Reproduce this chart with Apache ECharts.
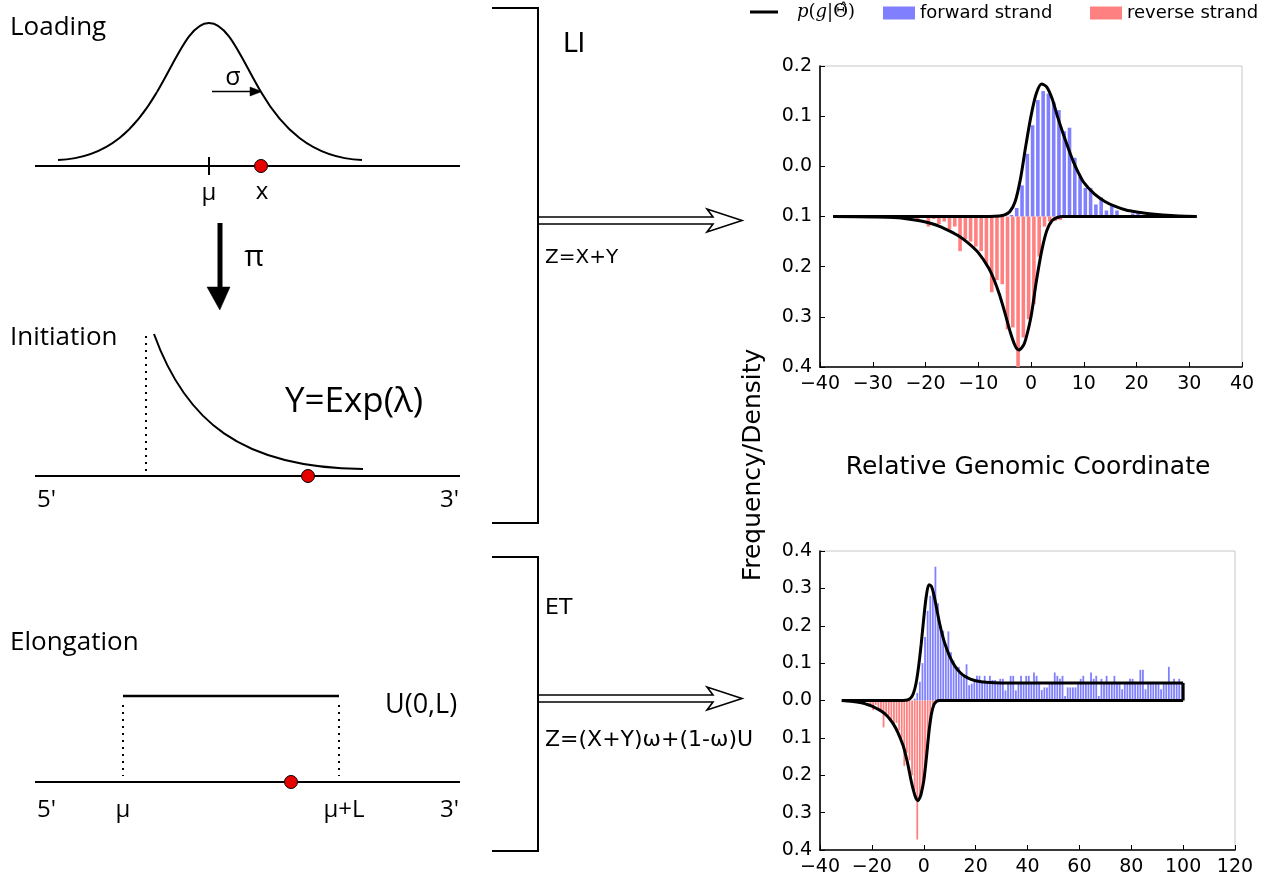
<!DOCTYPE html>
<html><head><meta charset="utf-8">
<script src="https://cdn.jsdelivr.net/npm/echarts@6/dist/echarts.min.js"></script>
<style>html,body{margin:0;padding:0;background:#fff}#c{width:1265px;height:877px}</style>
</head><body><div id="c"></div>
<script>
// ---------- DATA ----------
// LI panel (top chart)
const topXTickLabels = ['\u221240','\u221230','\u221220','\u221210','0','10','20','30','40'];
const topYTickLabels = ['0.4','0.3','0.2','0.1','0.0','0.1','0.2'];
const topFwdX = [-3.7,-2.7,-1.7,-0.7,0.3,1.3,2.3,3.3,4.3,5.3,6.3,7.3,8.3,9.3,10.3,11.3,12.3,13.3,14.3,15.3,16.3,17.3,18.3,19.3,20.3,21.3];
const topFwdY = [0.003,0.017,0.062,0.125,0.182,0.232,0.25,0.245,0.228,0.212,0.17,0.177,0.117,0.08,0.057,0.057,0.024,0.038,0.012,0.022,0.012,0.003,0.002,0.006,0.006,0.003];
const topRevX = [-21.45,-20.45,-19.45,-18.45,-17.45,-16.45,-15.45,-14.45,-13.45,-12.45,-11.45,-10.45,-9.45,-8.45,-7.45,-6.45,-5.45,-4.45,-3.45,-2.45,-1.45,-0.45,0.55,1.55,2.55,3.55,4.55,5.55];
const topRevY = [-0.005,-0.003,-0.02,-0.005,-0.015,-0.01,-0.025,-0.02,-0.069,-0.045,-0.05,-0.06,-0.069,-0.095,-0.151,-0.127,-0.135,-0.225,-0.221,-0.301,-0.241,-0.205,-0.175,-0.08,-0.02,-0.01,-0.009,-0.007];
const topFwdCurve = [[-37.5,0],[-10,0],[-6,0.001],[-5,0.003],[-4,0.01],[-3,0.03],[-2,0.075],[-1,0.14],[0,0.2],[1,0.245],[2,0.264],[3,0.258],[4,0.235],[5,0.2],[6,0.168],[7,0.138],[8,0.11],[9,0.087],[10,0.068],[12,0.045],[14,0.03],[16,0.02],[18,0.013],[20,0.009],[22,0.006],[25,0.003],[28,0.001],[31.4,0]];
const topRevCurve = [[-37.5,0],[-30,-0.001],[-26,-0.002],[-24,-0.004],[-22,-0.007],[-20,-0.011],[-18,-0.017],[-16,-0.026],[-14,-0.037],[-12,-0.052],[-10,-0.072],[-8,-0.103],[-7,-0.126],[-6,-0.155],[-5,-0.19],[-4,-0.228],[-3,-0.258],[-2.3,-0.266],[-1.5,-0.258],[-1,-0.245],[0,-0.2],[1,-0.13],[2,-0.07],[3,-0.028],[4,-0.008],[5,-0.002],[6,0],[31.4,0]];

// ET panel (bottom chart)
const botXTickLabels = ['\u221240','\u221220','0','20','40','60','80','100','120'];
const botYTickLabels = ['0.4','0.3','0.2','0.1','0.0','0.1','0.2','0.3','0.4'];
const botFwdX = [-3.5,-2.5,-1.5,-0.5,0.5,1.5,2.5,3.5,4.5,5.5,
  6.5,7.5,8.5,9.5,10.5,11.5,12.5,13.5,14.5,15.5,
  16.5,17.5,18.5,19.5,20.5,21.5,22.5,23.5,24.5,25.5,
  26.5,27.5,28.5,29.5,30.5,31.5,32.5,33.5,34.5,35.5,
  36.5,37.5,38.5,39.5,40.5,41.5,42.5,43.5,44.5,45.5,
  46.5,47.5,48.5,49.5,50.5,51.5,52.5,53.5,54.5,55.5,
  56.5,57.5,58.5,59.5,60.5,61.5,62.5,63.5,64.5,65.5,
  66.5,67.5,68.5,69.5,70.5,71.5,72.5,73.5,74.5,75.5,
  76.5,77.5,78.5,79.5,80.5,81.5,82.5,83.5,84.5,85.5,
  86.5,87.5,88.5,89.5,90.5,91.5,92.5,93.5,94.5,95.5,
  96.5,97.5,98.5,99.5];
const botFwdY = [0.005,0.02,0.05,0.1,0.17,0.24,0.28,0.3,0.358,0.26,
  0.2,0.187,0.14,0.185,0.129,0.107,0.085,0.09,0.07,0.067,
  0.097,0.041,0.045,0.05,0.066,0.066,0.05,0.066,0.05,0.066,
  0.055,0.055,0.05,0.058,0.058,0.027,0.045,0.066,0.066,0.027,
  0.045,0.066,0.045,0.066,0.066,0.045,0.075,0.066,0.05,0.028,
  0.035,0.035,0.045,0.05,0.075,0.066,0.058,0.066,0.012,0.035,
  0.035,0.035,0.035,0.045,0.058,0.066,0.045,0.045,0.075,0.058,
  0.066,0.012,0.058,0.045,0.066,0.045,0.045,0.066,0.045,0.045,
  0.03,0.045,0.045,0.058,0.058,0.05,0.045,0.082,0.082,0.03,
  0.045,0.045,0.05,0.045,0.045,0.03,0.045,0.045,0.09,0.045,
  0.058,0.045,0.058,0.045];
const botRevX = [-21.5,-20.5,-19.5,-18.5,-17.5,-16.5,-15.5,-14.5,-13.5,-12.5,-11.5,-10.5,-9.5,-8.5,-7.5,-6.5,-5.5,-4.5,-3.5,-2.5,-1.5,-0.5,0.5,1.5,2.5,3.5,4.5];
const botRevY = [-0.004,-0.01,-0.026,-0.012,-0.02,-0.025,-0.072,-0.035,-0.04,-0.05,-0.07,-0.06,-0.08,-0.1,-0.175,-0.14,-0.16,-0.2,-0.24,-0.372,-0.255,-0.23,-0.207,-0.13,-0.06,-0.02,-0.005];
const botFwdCurve = [[-31.6,0],[-8,0],[-6,0.002],[-5,0.007],[-4,0.019],[-3,0.045],[-2,0.09],[-1,0.15],[0,0.22],[1,0.28],[2,0.31],[3,0.305],[4,0.28],[5,0.245],[6,0.21],[7,0.18],[8,0.155],[10,0.118],[12,0.092],[14,0.075],[16,0.064],[18,0.057],[20,0.053],[24,0.049],[30,0.047],[60,0.047],[100,0.047]];
const botFwdDrop = [[100,0.047],[100,0]];
const botRevCurve = [[-31.6,0],[-28,-0.002],[-24,-0.006],[-22,-0.01],[-20,-0.015],[-18,-0.022],[-16,-0.03],[-14,-0.042],[-12,-0.06],[-10,-0.085],[-8,-0.12],[-7,-0.145],[-6,-0.175],[-5,-0.21],[-4,-0.24],[-3,-0.262],[-2.2,-0.268],[-1.5,-0.26],[-1,-0.25],[0,-0.215],[1,-0.155],[2,-0.085],[3,-0.035],[4,-0.01],[5,-0.002],[6,0],[50,0],[100,0]];

// ---------- CHART ----------
const pair = (xs, ys) => xs.map((x, i) => [x, ys[i]]);
const chart = echarts.init(document.getElementById('c'));
const SANS = 'DejaVu Sans';
const DIA = 'Open Sans';

function xAxisCfg(gi, min, max, step, labels) {
  return {
    gridIndex: gi, type: 'value', min: min, max: max, interval: step,
    axisLine: { show: true, onZero: false, lineStyle: { color: '#000', width: 1.6 } },
    axisTick: { show: true, inside: true, length: 5, lineStyle: { color: '#000', width: 1 } },
    axisLabel: { color: '#000', fontSize: 19, fontFamily: SANS, margin: 8,
      formatter: v => labels[Math.round((v - min) / step)] },
    splitLine: { show: false }
  };
}
function yAxisCfg(gi, min, max, step, labels) {
  return {
    gridIndex: gi, type: 'value', min: min, max: max, interval: step,
    axisLine: { show: true, onZero: false, lineStyle: { color: '#000', width: 1.6 } },
    axisTick: { show: true, inside: true, length: 5, lineStyle: { color: '#000', width: 1 } },
    axisLabel: { color: '#000', fontSize: 19, fontFamily: SANS, margin: 8,
      formatter: v => labels[Math.round((v - min) / step)] },
    splitLine: { show: false }
  };
}
const FWD = '#8080ff', REV = '#ff8080';
const curveStyle = { color: '#000', width: 3 };

function txt(t, x, y, size, fam, align) {
  return { type: 'text', x: x, y: y, silent: true,
    style: { text: t, x: 0, y: 0, fill: '#000', fontSize: size, fontFamily: fam,
      textAlign: align || 'left', textVerticalAlign: 'middle' } };
}
function ln(x1, y1, x2, y2, w, dash) {
  return { type: 'line', silent: true, shape: { x1: x1, y1: y1, x2: x2, y2: y2 },
    style: { stroke: '#000', lineWidth: w, lineDash: dash || null } };
}
function bez(x1, y1, c1x, c1y, c2x, c2y, x2, y2, w) {
  return { type: 'bezierCurve', silent: true,
    shape: { x1: x1, y1: y1, cpx1: c1x, cpy1: c1y, cpx2: c2x, cpy2: c2y, x2: x2, y2: y2 },
    style: { stroke: '#000', lineWidth: w, fill: 'none' } };
}
function dot(cx, cy) {
  return { type: 'circle', silent: true, shape: { cx: cx, cy: cy, r: 6.5 },
    style: { fill: '#e60000', stroke: '#000', lineWidth: 1 } };
}
function poly(pts, w, fill) {
  return { type: fill ? 'polygon' : 'polyline', silent: true, shape: { points: pts },
    style: fill ? { fill: '#000', stroke: '#000', lineWidth: 0.5 } : { stroke: '#000', lineWidth: w, fill: 'none' } };
}

const graphics = [
  // Loading
  txt('Loading', 10, 28, 26, DIA),
  bez(58, 160, 110, 158, 137, 126, 157, 92, 2),
  bez(157, 92, 177, 58, 190, 23, 209, 23, 2),
  bez(209, 23, 228, 23, 241, 58, 261, 92, 2),
  bez(261, 92, 281, 126, 310, 158, 362, 160, 2),
  ln(35, 166, 460, 166, 2),
  ln(209, 157, 209, 175, 2),
  dot(261, 166),
  ln(212, 91.5, 252, 91.5, 1.5),
  poly([[262, 91.5], [250, 87], [250, 96]], 1, true),
  txt('\u03c3', 233, 78, 25, DIA, 'center'),
  txt('\u03bc', 209, 193, 24, DIA, 'center'),
  txt('x', 262, 192, 24, DIA, 'center'),
  // pi arrow
  { type: 'rect', silent: true, shape: { x: 217.5, y: 223, width: 5, height: 66 }, style: { fill: '#000' } },
  poly([[207, 287], [230, 287], [219.8, 310]], 1, true),
  txt('\u03c0', 254, 257, 30, DIA, 'center'),
  // Initiation
  txt('Initiation', 10, 338, 26, DIA),
  ln(146, 336, 146, 474, 2, [2, 5]),
  bez(154, 334, 185, 420, 240, 468, 363, 469, 2),
  ln(35, 476, 460, 476, 2),
  dot(308, 476),
  txt('Y=Exp(\u03bb)', 285, 402, 35, DIA),
  txt("5'", 37, 500, 24, DIA),
  txt("3'", 440, 500, 24, DIA),
  // Elongation
  txt('Elongation', 10, 643, 26, DIA),
  ln(123, 696, 339, 696, 2.5),
  ln(123, 705, 123, 776, 2, [2, 5]),
  ln(339, 705, 339, 776, 2, [2, 5]),
  ln(35, 782, 460, 782, 2),
  dot(291, 782),
  txt('U(0,L)', 385, 705, 27, DIA),
  txt("5'", 37, 810, 24, DIA),
  txt('\u03bc', 123, 810, 24, DIA, 'center'),
  txt('\u03bc+L', 344, 810, 24, DIA, 'center'),
  txt("3'", 440, 810, 24, DIA),
  // brackets
  poly([[492, 8], [538, 8], [538, 523], [492, 523]], 2),
  poly([[492, 557], [538, 557], [538, 851], [492, 851]], 2),
  poly([[538, 217], [713, 217], [707, 209], [742, 220.5], [707, 232], [713, 224], [538, 224]], 1.6),
  poly([[538, 695], [713, 695], [707, 687], [742, 698.5], [707, 710], [713, 702], [538, 702]], 1.6),
  txt('LI', 563, 45, 26, SANS),
  txt('Z=X+Y', 545, 258, 20, SANS),
  txt('ET', 545, 608, 22, SANS),
  txt('Z=(X+Y)\u03c9+(1-\u03c9)U', 545, 740, 22, SANS),
  // axis titles
  { type: 'text', x: 753, y: 465, rotation: Math.PI / 2, silent: true,
    style: { text: 'Frequency/Density', x: 0, y: 0, fill: '#000', fontSize: 25, fontFamily: SANS,
      textAlign: 'center', textVerticalAlign: 'middle' } },
  txt('Relative Genomic Coordinate', 1028, 467, 25, SANS, 'center')
];

const option = {
  animation: false,
  backgroundColor: '#fff',
  legend: [
    { data: [{ name: 'density', icon: 'rect' }], left: 750, top: 3, padding: 0, itemWidth: 28, itemHeight: 3, selectedMode: false,
      formatter: () => '{sp| }{i|p}({i|g}|\u0398\u0302)',
      textStyle: { color: '#000', fontFamily: 'DejaVu Serif', fontSize: 18,
        rich: { sp: { width: 14 }, i: { fontStyle: 'italic', fontFamily: 'DejaVu Serif', fontSize: 18 } } } },
    { data: ['forward strand'], left: 883, top: 4, padding: 0, icon: 'rect', itemWidth: 32, itemHeight: 13, selectedMode: false,
      textStyle: { color: '#000', fontFamily: SANS, fontSize: 18 } },
    { data: ['reverse strand'], left: 1090, top: 4, padding: 0, icon: 'rect', itemWidth: 32, itemHeight: 13, selectedMode: false,
      textStyle: { color: '#000', fontFamily: SANS, fontSize: 18 } }
  ],
  grid: [
    { left: 820, top: 66, width: 422, height: 301, show: true, borderColor: '#c8c8c8', borderWidth: 1 },
    { left: 820, top: 551, width: 415, height: 301, show: true, borderColor: '#c8c8c8', borderWidth: 1 }
  ],
  xAxis: [ xAxisCfg(0, -40, 40, 10, topXTickLabels), xAxisCfg(1, -40, 120, 20, botXTickLabels) ],
  yAxis: [ yAxisCfg(0, -0.3, 0.3, 0.1, topYTickLabels), yAxisCfg(1, -0.4, 0.4, 0.1, botYTickLabels) ],
  graphic: graphics,
  series: [
    { name: 'forward strand', type: 'bar', xAxisIndex: 0, yAxisIndex: 0, data: pair(topFwdX, topFwdY),
      barWidth: 3.6, barGap: '-100%', itemStyle: { color: FWD }, z: 2 },
    { name: 'reverse strand', type: 'bar', xAxisIndex: 0, yAxisIndex: 0, data: pair(topRevX, topRevY),
      barWidth: 3.6, barGap: '-100%', itemStyle: { color: REV }, z: 2 },
    { name: 'density', type: 'line', xAxisIndex: 0, yAxisIndex: 0, data: topFwdCurve, symbol: 'none',
      smooth: 0.3, lineStyle: curveStyle, itemStyle: { color: '#000' }, z: 5 },
    { name: 'density', type: 'line', xAxisIndex: 0, yAxisIndex: 0, data: topRevCurve, symbol: 'none',
      smooth: 0.3, lineStyle: curveStyle, itemStyle: { color: '#000' }, z: 5 },
    { name: 'forward strand', type: 'bar', xAxisIndex: 1, yAxisIndex: 1, data: pair(botFwdX, botFwdY),
      barWidth: 1.8, barGap: '-100%', itemStyle: { color: FWD }, z: 2 },
    { name: 'reverse strand', type: 'bar', xAxisIndex: 1, yAxisIndex: 1, data: pair(botRevX, botRevY),
      barWidth: 1.8, barGap: '-100%', itemStyle: { color: REV }, z: 2 },
    { name: 'density', type: 'line', xAxisIndex: 1, yAxisIndex: 1, data: botFwdCurve, symbol: 'none',
      smooth: 0.3, lineStyle: curveStyle, itemStyle: { color: '#000' }, z: 5 },
    { name: 'density', type: 'line', xAxisIndex: 1, yAxisIndex: 1, data: botFwdDrop, symbol: 'none',
      lineStyle: curveStyle, itemStyle: { color: '#000' }, z: 5 },
    { name: 'density', type: 'line', xAxisIndex: 1, yAxisIndex: 1, data: botRevCurve, symbol: 'none',
      smooth: 0.3, lineStyle: curveStyle, itemStyle: { color: '#000' }, z: 5 }
  ]
};
chart.setOption(option);
</script>
</body></html>
